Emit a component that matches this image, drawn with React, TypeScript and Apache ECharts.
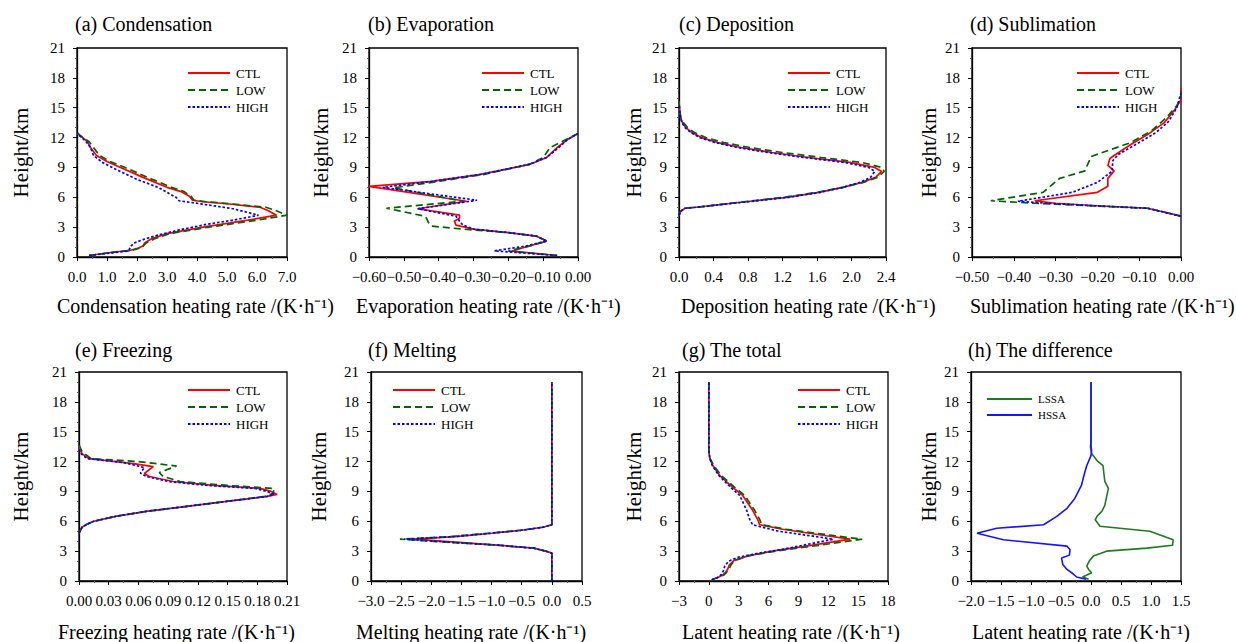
import React, { useEffect, useRef } from "react";
import * as echarts from "echarts";

// ---------- data: [heating rate, height km] ----------
const heightTicks = [0, 3, 6, 9, 12, 15, 18, 21];

const condCTL = [[0.4,0.15],[1.0,0.4],[1.4,0.55],[1.75,0.65],[2.05,0.9],[2.2,1.1],[2.25,1.4],[2.5,1.85],[3.0,2.35],[4.2,3.0],[5.7,3.7],[6.65,4.2],[6.35,4.7],[6.1,5.0],[5.0,5.35],[4.2,5.55],[3.85,5.7],[3.75,6.1],[3.45,6.6],[3.0,7.0],[2.2,8.0],[1.45,9.0],[1.0,9.6],[0.65,10.2],[0.45,11.0],[0.35,11.6],[0.15,12.1],[0.0,12.4]];
const condLOW = [[0.4,0.15],[1.0,0.4],[1.4,0.55],[1.8,0.65],[2.1,0.9],[2.2,1.1],[2.3,1.4],[2.6,1.85],[3.1,2.35],[4.4,3.0],[6.0,3.7],[7.0,4.2],[6.6,4.7],[6.3,5.0],[5.1,5.35],[4.3,5.55],[3.9,5.7],[3.8,6.1],[3.55,6.6],[3.15,7.0],[2.35,8.0],[1.6,9.0],[1.1,9.6],[0.75,10.2],[0.55,11.0],[0.4,11.6],[0.15,12.1],[0.0,12.5]];
const condHIGH = [[0.4,0.15],[1.1,0.4],[1.7,0.6],[1.75,0.8],[1.8,1.1],[1.9,1.4],[2.2,1.75],[2.7,2.2],[3.45,2.75],[4.35,3.3],[5.2,3.7],[6.05,4.2],[5.2,4.85],[4.1,5.35],[3.4,5.65],[3.3,6.0],[3.0,6.5],[2.7,7.0],[2.0,7.8],[1.3,8.8],[0.85,9.5],[0.55,10.2],[0.45,11.0],[0.3,11.6],[0.12,12.1],[0.0,12.4]];

const evapCTL = [[-0.06,0.15],[-0.19,0.6],[-0.14,1.1],[-0.09,1.6],[-0.12,2.1],[-0.2,2.45],[-0.3,2.8],[-0.35,3.2],[-0.355,3.6],[-0.34,3.9],[-0.34,4.2],[-0.46,4.85],[-0.32,5.6],[-0.6,7.1],[-0.42,7.6],[-0.28,8.3],[-0.14,9.3],[-0.09,10.0],[-0.06,11.0],[-0.03,11.8],[0,12.4]];
const evapLOW = [[-0.06,0.15],[-0.2,0.6],[-0.14,1.1],[-0.09,1.6],[-0.12,2.1],[-0.2,2.45],[-0.33,2.8],[-0.42,3.1],[-0.43,3.5],[-0.435,3.9],[-0.44,4.1],[-0.55,4.9],[-0.33,5.6],[-0.53,6.95],[-0.4,7.6],[-0.27,8.3],[-0.14,9.3],[-0.1,10.0],[-0.08,11.0],[-0.04,11.7],[0,12.4]];
const evapHIGH = [[-0.06,0.15],[-0.24,0.62],[-0.15,1.1],[-0.09,1.6],[-0.12,2.1],[-0.2,2.45],[-0.3,2.8],[-0.33,3.2],[-0.34,3.6],[-0.35,4.1],[-0.46,4.85],[-0.29,5.7],[-0.56,7.0],[-0.42,7.6],[-0.28,8.3],[-0.14,9.3],[-0.09,10.0],[-0.055,11.0],[-0.03,11.8],[0,12.4]];

const depCTL = [[0,4.2],[0.02,4.6],[0.07,4.9],[0.2,5.0],[0.72,5.5],[1.25,6.0],[1.62,6.5],[1.9,7.0],[2.12,7.5],[2.28,8.0],[2.35,8.6],[2.27,9.0],[1.98,9.5],[1.5,10.0],[1.08,10.5],[0.72,11.0],[0.45,11.5],[0.26,12.0],[0.15,12.5],[0.08,13.0],[0.04,13.5],[0.02,14.0],[0.005,15.0],[0,15.5]];
const depLOW = [[0,4.2],[0.02,4.6],[0.07,4.9],[0.2,5.0],[0.7,5.5],[1.22,6.0],[1.6,6.5],[1.9,7.0],[2.14,7.5],[2.3,8.0],[2.38,8.6],[2.35,9.0],[2.12,9.5],[1.65,10.0],[1.2,10.5],[0.82,11.0],[0.52,11.5],[0.31,12.0],[0.18,12.5],[0.1,13.0],[0.05,13.5],[0.02,14.0],[0.005,15.0],[0,15.8]];
const depHIGH = [[0,4.2],[0.02,4.6],[0.07,4.9],[0.2,5.0],[0.74,5.5],[1.27,6.0],[1.64,6.5],[1.9,7.0],[2.1,7.5],[2.22,8.0],[2.27,8.6],[2.2,9.0],[1.92,9.5],[1.45,10.0],[1.03,10.5],[0.68,11.0],[0.42,11.5],[0.24,12.0],[0.14,12.5],[0.07,13.0],[0.035,13.5],[0.015,14.0],[0.005,15.0],[0,15.3]];

const subCTL = [[0,4.1],[-0.08,4.9],[-0.2,5.15],[-0.3,5.4],[-0.35,5.65],[-0.2,6.5],[-0.175,7.1],[-0.175,7.9],[-0.16,8.65],[-0.175,9.2],[-0.17,9.9],[-0.16,10.2],[-0.12,11.3],[-0.08,12.3],[-0.04,13.5],[-0.015,14.8],[0,15.8],[0,17]];
const subLOW = [[0,4.1],[-0.08,4.9],[-0.22,5.15],[-0.35,5.4],[-0.455,5.65],[-0.33,6.5],[-0.29,7.9],[-0.23,8.65],[-0.215,10.1],[-0.12,11.5],[-0.07,12.7],[-0.035,14.0],[-0.01,15.2],[0,16.0],[0,17]];
const subHIGH = [[0,4.1],[-0.08,4.9],[-0.21,5.15],[-0.32,5.4],[-0.39,5.6],[-0.26,6.5],[-0.2,7.5],[-0.165,8.6],[-0.163,9.7],[-0.15,10.3],[-0.1,11.5],[-0.06,12.5],[-0.03,13.6],[-0.01,15.0],[0,16.5]];

const freCTL = [[0,4.8],[0.003,5.4],[0.008,5.7],[0.015,6.0],[0.037,6.5],[0.068,7.0],[0.109,7.5],[0.149,8.0],[0.19,8.5],[0.2,8.7],[0.194,9.0],[0.183,9.3],[0.136,9.6],[0.095,10.0],[0.071,10.5],[0.066,10.8],[0.075,11.5],[0.055,11.8],[0.01,12.3],[0.003,12.8],[0,13.5]];
const freLOW = [[0,4.8],[0.003,5.4],[0.008,5.7],[0.015,6.0],[0.037,6.5],[0.068,7.0],[0.109,7.5],[0.149,8.0],[0.188,8.5],[0.196,8.8],[0.197,9.3],[0.15,9.6],[0.102,10.0],[0.085,10.5],[0.081,10.9],[0.0985,11.55],[0.06,12.0],[0.012,12.3],[0.003,13.0],[0,13.7]];
const freHIGH = [[0,4.8],[0.003,5.4],[0.008,5.7],[0.015,6.0],[0.037,6.5],[0.068,7.0],[0.109,7.5],[0.149,8.0],[0.19,8.5],[0.197,8.7],[0.19,9.0],[0.178,9.3],[0.13,9.6],[0.09,10.0],[0.068,10.5],[0.062,10.85],[0.066,11.4],[0.045,11.9],[0.008,12.3],[0.002,12.8],[0,13.2]];

const meltCTL = [[0,0],[0,2.8],[-0.1,3.0],[-0.3,3.3],[-0.9,3.6],[-1.6,3.9],[-2.3,4.2],[-1.6,4.45],[-1.0,4.8],[-0.5,5.1],[-0.15,5.4],[0,5.65],[0,20]];
const meltLOW = [[0,0],[0,2.8],[-0.1,3.0],[-0.3,3.3],[-0.9,3.6],[-1.75,3.9],[-2.52,4.2],[-1.7,4.45],[-1.05,4.8],[-0.5,5.1],[-0.15,5.4],[0,5.65],[0,20]];
const meltHIGH = [[0,0],[0,2.8],[-0.1,3.0],[-0.3,3.3],[-0.9,3.6],[-1.7,3.9],[-2.45,4.2],[-1.65,4.45],[-1.0,4.8],[-0.5,5.1],[-0.15,5.4],[0,5.65],[0,20]];

const totCTL = [[0.3,0.13],[1.0,0.4],[1.4,0.6],[1.7,0.9],[1.9,1.2],[2.05,1.6],[2.5,2.05],[4.0,2.55],[6.7,3.05],[10.1,3.55],[14.2,4.2],[11.8,4.55],[7.4,5.2],[5.1,5.65],[4.9,6.2],[4.4,7.1],[3.4,8.6],[2.4,9.4],[1.1,10.6],[0.4,11.6],[0.1,12.3],[0,13],[0,20]];
const totLOW = [[0.3,0.13],[1.0,0.4],[1.5,0.6],[1.8,0.9],[2.05,1.2],[2.2,1.6],[2.6,2.05],[4.1,2.55],[7.0,3.05],[10.8,3.55],[15.4,4.2],[12.6,4.55],[7.8,5.2],[5.3,5.65],[5.1,6.2],[4.6,7.1],[3.6,8.6],[2.6,9.4],[1.25,10.6],[0.5,11.6],[0.12,12.3],[0,13],[0,20]];
const totHIGH = [[0.3,0.13],[1.0,0.4],[1.3,0.7],[1.45,1.0],[1.6,1.5],[2.0,2.0],[3.0,2.4],[5.0,2.8],[7.5,3.2],[10.0,3.7],[12.5,4.2],[10.5,4.5],[7.0,5.0],[4.4,5.65],[4.1,6.2],[3.8,7.1],[3.1,8.6],[2.2,9.4],[1.0,10.6],[0.35,11.6],[0.1,12.3],[0,13],[0,20]];

const diffLSSA = [[-0.04,0.17],[-0.14,0.4],[0.01,0.83],[-0.04,1.16],[-0.07,1.5],[-0.03,2.0],[0.04,2.5],[0.26,3.0],[0.93,3.3],[1.36,3.6],[1.37,4.15],[0.98,5.0],[0.15,5.5],[0.07,6.15],[0.1,6.5],[0.18,7.0],[0.23,7.6],[0.29,9.3],[0.23,10.0],[0.2,11.6],[0.1,12.1],[0.01,12.8],[-0.01,13.5],[0,14],[0,20]];
const diffHSSA = [[-0.08,0.17],[-0.24,0.4],[-0.3,0.73],[-0.4,1.16],[-0.47,1.66],[-0.49,2.3],[-0.36,2.6],[-0.35,3.16],[-0.4,3.5],[-1.46,4.15],[-1.9,4.8],[-1.57,5.3],[-0.79,5.65],[-0.57,6.5],[-0.4,7.3],[-0.27,8.3],[-0.16,9.6],[-0.1,11.0],[-0.07,11.6],[0,12.6],[0.01,13.1],[0,13.6],[0,20]];

const runNames = ["CTL", "LOW", "HIGH"];
const diffNames = ["LSSA", "HSSA"];

// ---------- layout / style ----------
const FONT = "'Liberation Serif', 'Times New Roman', serif";
const RUN_STYLE: Record<string, any> = {
  CTL: { color: "#ff0000", type: "solid", width: 1.7 },
  LOW: { color: "#006400", type: [7, 4], width: 1.7 },
  HIGH: { color: "#0000ff", type: [2.5, 2], width: 1.7 },
  LSSA: { color: "#1e7a1e", type: "solid", width: 1.6 },
  HSSA: { color: "#1414ff", type: "solid", width: 1.6 },
};

const panels = [
  { title: "(a) Condensation", tl: 75, xName: "Condensation heating rate /(K·h⁻¹)", xl: 57,
    min: 0, max: 7, int: 1, dec: 1, g: [77, 48, 210, 209], yGap: 46, lg: [188, 73],
    names: runNames, data: [condCTL, condLOW, condHIGH] },
  { title: "(b) Evaporation", tl: 368, xName: "Evaporation heating rate /(K·h⁻¹)", xl: 356,
    min: -0.6, max: 0, int: 0.1, dec: 2, g: [369, 48, 209, 209], yGap: 38, lg: [482, 73],
    names: runNames, data: [evapCTL, evapLOW, evapHIGH] },
  { title: "(c) Deposition", tl: 679, xName: "Deposition heating rate /(K·h⁻¹)", xl: 681,
    min: 0, max: 2.4, int: 0.4, dec: 1, g: [679, 48, 207, 209], yGap: 35, lg: [788, 73],
    names: runNames, data: [depCTL, depLOW, depHIGH] },
  { title: "(d) Sublimation", tl: 970, xName: "Sublimation heating rate /(K·h⁻¹)", xl: 970,
    min: -0.5, max: 0, int: 0.1, dec: 2, g: [972, 48, 209, 209], yGap: 33, lg: [1077, 73],
    names: runNames, data: [subCTL, subLOW, subHIGH] },
  { title: "(e) Freezing", tl: 75, xName: "Freezing heating rate /(K·h⁻¹)", xl: 58,
    min: 0, max: 0.21, int: 0.03, dec: 2, g: [79, 372, 208, 209], yGap: 48, lg: [188, 390],
    names: runNames, data: [freCTL, freLOW, freHIGH] },
  { title: "(f) Melting", tl: 368, xName: "Melting heating rate /(K·h⁻¹)", xl: 356,
    min: -3, max: 0.5, int: 0.5, dec: 1, g: [371, 372, 211, 209], yGap: 42, lg: [393, 390],
    names: runNames, data: [meltCTL, meltLOW, meltHIGH] },
  { title: "(g) The total", tl: 682, xName: "Latent heating rate /(K·h⁻¹)", xl: 682,
    min: -3, max: 18, int: 3, dec: 0, g: [679, 372, 209, 209], yGap: 35, lg: [798, 390],
    names: runNames, data: [totCTL, totLOW, totHIGH] },
  { title: "(h) The difference", tl: 968, xName: "Latent heating rate /(K·h⁻¹)", xl: 972,
    min: -2, max: 1.5, int: 0.5, dec: 1, g: [971, 372, 210, 209], yGap: 32, lg: [987, 399],
    names: diffNames, data: [diffLSSA, diffHSSA] },
];

const fmt = (dec: number) => (v: number) => {
  const x = Math.abs(v) < 1e-9 ? 0 : v;
  return x.toFixed(dec).replace("-", "\u2212");
};

function lineDash(t: any) {
  return Array.isArray(t) ? t : undefined;
}

function buildOption() {
  const title: any[] = [];
  const grid: any[] = [];
  const xAxis: any[] = [];
  const yAxis: any[] = [];
  const graphic: any[] = [];
  const series: any[] = [];
  panels.forEach((p, i) => {
    const row = i < 4 ? 0 : 1;
    const ts = { fontFamily: FONT, fontSize: 20, fontWeight: "normal", color: "#000" };
    title.push({ text: p.title, left: p.tl, top: row === 0 ? 14 : 340, padding: 0, textStyle: ts });
    title.push({ text: p.xName, left: p.xl, top: row === 0 ? 296 : 622, padding: 0, textStyle: ts });
    grid.push({ left: p.g[0], top: p.g[1], width: p.g[2], height: p.g[3], show: true,
      borderColor: "#000", borderWidth: 1.3, backgroundColor: "transparent" });
    xAxis.push({
      type: "value", gridIndex: i, min: p.min, max: p.max, interval: p.int,
      axisLine: { show: true, onZero: false, lineStyle: { color: "#000", width: 1.3 } },
      axisTick: { show: true, inside: false, length: 4, lineStyle: { color: "#000" } },
      minorTick: { show: true, splitNumber: 2, length: 2, lineStyle: { color: "#555" } },
      splitLine: { show: false },
      axisLabel: { formatter: fmt(p.dec), fontFamily: FONT, fontSize: 15, color: "#000", margin: 12,
        showMaxLabel: true, showMinLabel: true },
    });
    yAxis.push({
      type: "value", gridIndex: i, min: heightTicks[0], max: heightTicks[heightTicks.length - 1], interval: 3,
      name: "Height/km", nameLocation: "middle", nameGap: p.yGap,
      nameTextStyle: { fontFamily: FONT, fontSize: 21, color: "#000" },
      axisLine: { show: true, onZero: false, lineStyle: { color: "#000", width: 1.3 } },
      axisTick: { show: true, inside: false, length: 4, lineStyle: { color: "#000" } },
      minorTick: { show: true, splitNumber: 3, length: 2, lineStyle: { color: "#555" } },
      splitLine: { show: false },
      axisLabel: { fontFamily: FONT, fontSize: 15, color: "#000", margin: 12 },
    });
    const isDiff = p.names.length === 2;
    const lw = isDiff ? 45 : 42;
    const step = isDiff ? 16 : 17;
    p.names.forEach((n, k) => {
      const st = RUN_STYLE[n];
      const y = p.lg[1] + k * step;
      graphic.push({
        type: "line", shape: { x1: p.lg[0], y1: y, x2: p.lg[0] + lw, y2: y },
        style: { stroke: st.color, lineWidth: isDiff ? 1.8 : 2, lineDash: lineDash(st.type) },
        silent: true, z: 10,
      });
      graphic.push({
        type: "text", x: p.lg[0] + lw + 6, y,
        style: { text: n, fontFamily: FONT, fontSize: isDiff ? 11 : 13, fill: "#000",
          verticalAlign: "middle", align: "left" },
        silent: true, z: 10,
      });
      series.push({
        type: "line", name: n, xAxisIndex: i, yAxisIndex: i, data: p.data[k],
        symbol: "none", showSymbol: false, smooth: false, clip: true,
        lineStyle: { ...st }, itemStyle: { color: st.color },
      });
    });
  });
  return { animation: false, backgroundColor: "#fff", title, grid, xAxis, yAxis, graphic, series };
}

export default function App() {
  const ref = useRef<HTMLDivElement>(null);
  useEffect(() => {
    if (!ref.current) return;
    const chart = echarts.init(ref.current, undefined, { renderer: "svg" });
    chart.setOption(buildOption() as any);
    return () => chart.dispose();
  }, []);
  return (
    <div
      ref={ref}
      style={{ position: "fixed", left: 0, top: 0, width: 1236, height: 642, background: "#fff" }}
    />
  );
}
